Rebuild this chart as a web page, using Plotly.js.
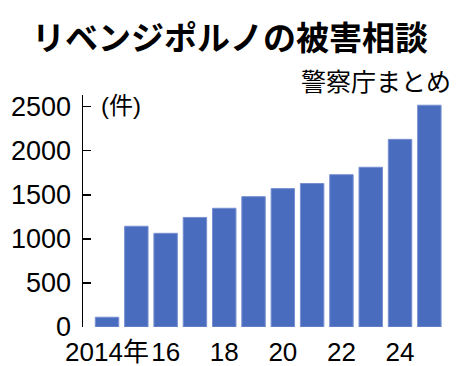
<!DOCTYPE html>
<html>
<head>
<meta charset="utf-8">
<script src="https://cdn.plot.ly/plotly-3.0.1.min.js"></script>
<style>html,body{margin:0;padding:0;background:#fff;}#chart{width:467px;height:366px;}</style>
</head>
<body>
<div id="chart"></div>
<script>
var years = [2014,2015,2016,2017,2018,2019,2020,2021,2022,2023,2024,2025];
var counts = [111,1143,1063,1243,1347,1479,1570,1628,1728,1812,2129,2516];
var tickYears = [2014,2016,2018,2020,2022,2024];
var tickText = ["2014年","16","18","20","22","24"];
var yTicks = [0,500,1000,1500,2000,2500];

var numFont = "Liberation Sans, Arial, sans-serif";
var cjkFont = "Noto Sans CJK JP, Noto Sans, sans-serif";

var trace = {
  type: 'bar',
  x: years,
  y: counts,
  marker: {color: '#4a6cbe', line: {color: '#7890d2', width: 1}},
  hoverinfo: 'none'
};

var layout = {
  width: 467, height: 366,
  margin: {l: 83, r: 23, t: 95, b: 39, pad: 0},
  paper_bgcolor: '#fff', plot_bgcolor: '#fff',
  showlegend: false,
  bargap: 0.2,
  title: {
    text: '<b>リベンジポルノの被害相談</b>',
    font: {family: cjkFont, size: 33, color: '#000'},
    x: 230/467, xanchor: 'center', xref: 'container',
    y: 1 - 38/366, yanchor: 'middle', yref: 'container'
  },
  xaxis: {
    range: [2013.18, 2025.5],
    tickmode: 'array', tickvals: tickYears, ticktext: tickText,
    tickangle: 0,
    ticks: '', showgrid: false, zeroline: false, showline: false,
    tickfont: {family: numFont + ', ' + cjkFont, size: 26, color: '#000'},
    ticklabelstandoff: 7,
    fixedrange: true
  },
  yaxis: {
    range: [0, 2632],
    tickmode: 'array', tickvals: yTicks,
    ticks: 'inside', ticklen: 8, tickwidth: 1.5, tickcolor: '#000',
    showline: true, linecolor: '#000', linewidth: 1.5,
    showgrid: false, zeroline: false,
    tickfont: {family: numFont, size: 27, color: '#000'},
    ticklabelstandoff: 5,
    fixedrange: true
  },
  annotations: [
    {
      text: '警察庁まとめ', xref: 'paper', yref: 'paper',
      x: (453-83)/361, y: (326.7-80)/231.7, xanchor: 'right', yanchor: 'middle',
      showarrow: false, font: {family: cjkFont, size: 25, color: '#000'}
    },
    {
      text: '(件)', xref: 'paper', yref: 'y',
      x: (99-83)/361, y: 2510, xanchor: 'left', yanchor: 'middle',
      showarrow: false, font: {family: numFont + ', ' + cjkFont, size: 24, color: '#000'}
    }
  ]
};

Plotly.newPlot('chart', [trace], layout, {staticPlot: true, displayModeBar: false});
</script>
</body>
</html>
